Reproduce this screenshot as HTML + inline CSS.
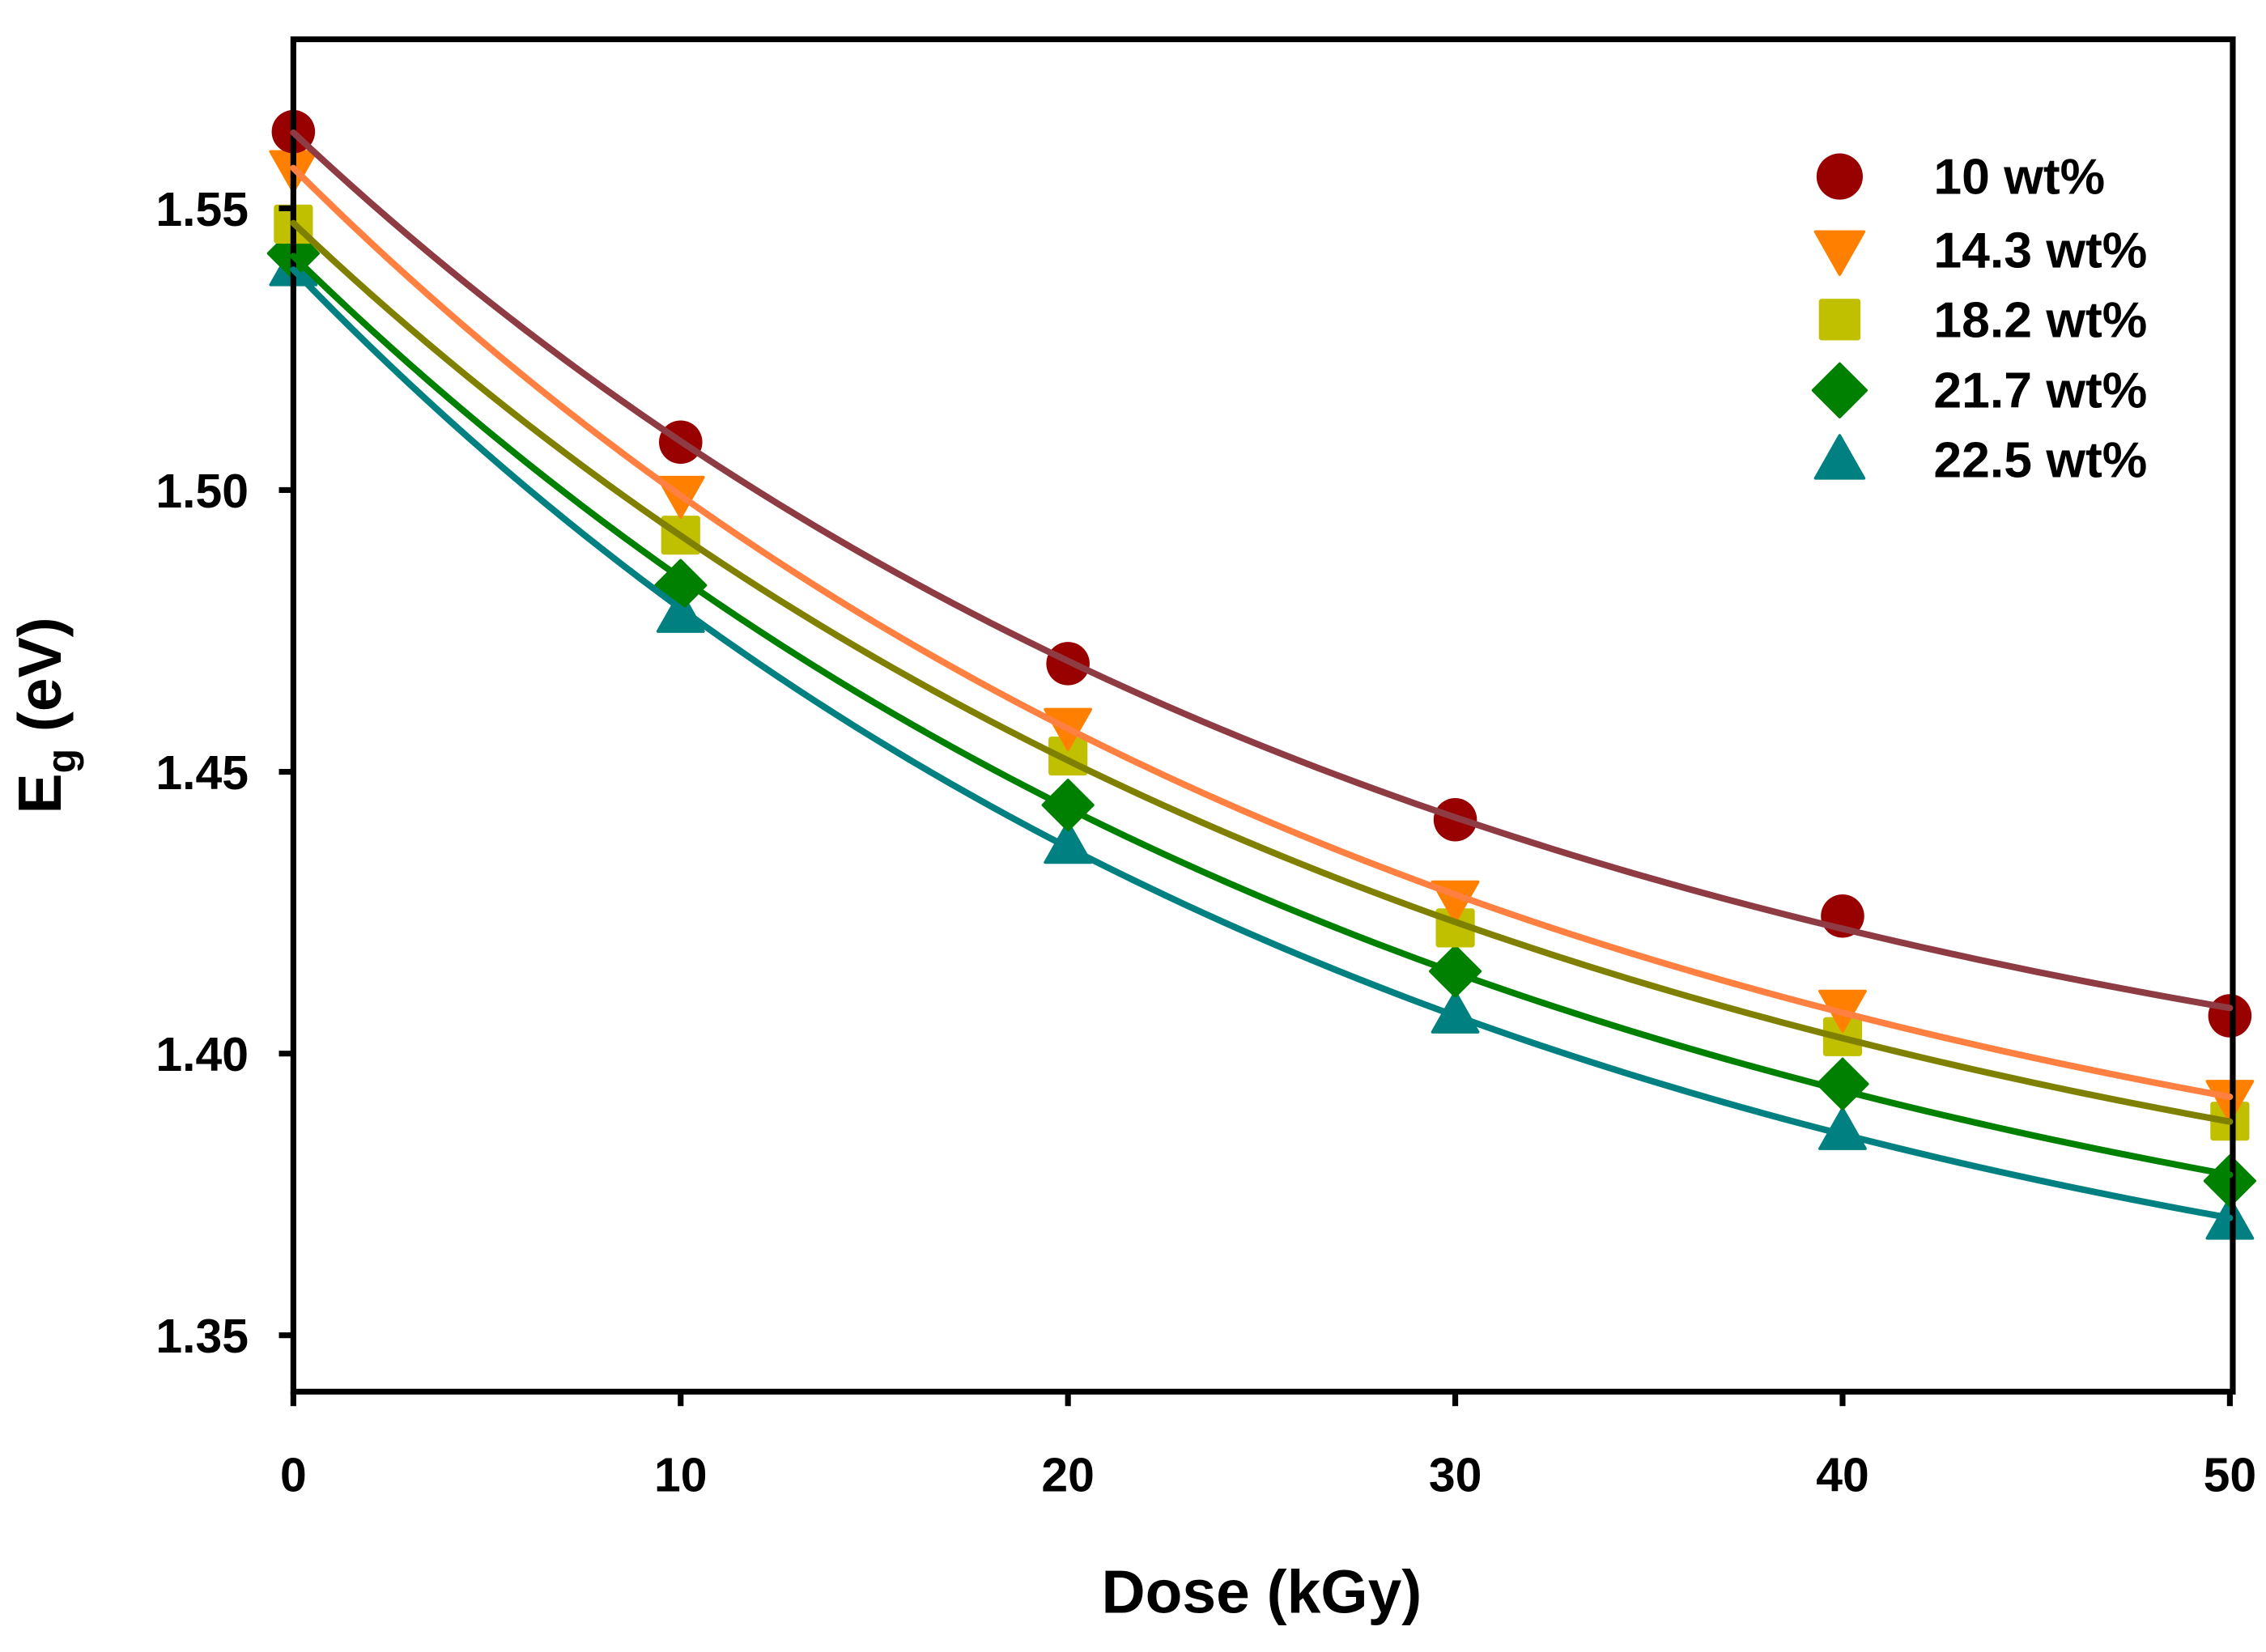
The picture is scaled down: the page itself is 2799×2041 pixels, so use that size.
<!DOCTYPE html>
<html><head><meta charset="utf-8"><style>
html,body{margin:0;padding:0;background:#fff;}
svg{display:block;font-family:"Liberation Sans",Arial,sans-serif;font-weight:bold;}
</style></head><body>
<svg id="chart" width="2799" height="2041" viewBox="0 0 1568 1143" xmlns="http://www.w3.org/2000/svg">
<g id="plot"></g>
</svg>
<script>
const doses = [0, 10, 20, 30, 40, 50];
const seriesNames = ["10 wt%", "14.3 wt%", "18.2 wt%", "21.7 wt%", "22.5 wt%"];
const s10 = [1.5636, 1.5085, 1.4692, 1.4415, 1.4244, 1.4067];
const s143 = [1.557, 1.4992, 1.458, 1.4274, 1.408, 1.392];
const s182 = [1.5472, 1.492, 1.4528, 1.4223, 1.403, 1.388];
const s217 = [1.542, 1.4831, 1.4441, 1.4146, 1.3946, 1.3774];
const s225 = [1.5395, 1.478, 1.437, 1.4069, 1.3862, 1.3703];
const xTicks = [0, 10, 20, 30, 40, 50];
const yTicks = [1.35, 1.40, 1.45, 1.50, 1.55];

const NS = "http://www.w3.org/2000/svg";
const L = 203, R = 1545, T = 27, B = 963;
function xs(v){ return 203 + v * 26.8; }
function ys(v){ return 144 + (1.55 - v) * 3900; }
const g = document.getElementById('plot');
function mk(tag, attrs){ const e = document.createElementNS(NS, tag); for (const k in attrs) e.setAttribute(k, attrs[k]); g.appendChild(e); return e; }

const all = [s10, s143, s182, s217, s225];
const lineCols = ["#8e3b43", "#ff8040", "#808000", "#008000", "#008080"];
const markCols = ["#990000", "#ff8000", "#c0c000", "#008000", "#008080"];
const shapes = ["circle", "tdown", "square", "diamond", "tup"];
const slugs = ["10wt", "14-3wt", "18-2wt", "21-7wt", "22-5wt"];

function fit(ys_){
  let best = null;
  for (let b = 0.002; b <= 0.3; b += 0.0005) {
    const e = doses.map(x => Math.exp(-b * x));
    const n = e.length; let se=0, sy=0, see=0, sey=0;
    for (let i=0;i<n;i++){ se+=e[i]; sy+=ys_[i]; see+=e[i]*e[i]; sey+=e[i]*ys_[i]; }
    const a = (n*sey - se*sy) / (n*see - se*se); const y0 = (sy - a*se)/n;
    let err = 0; for (let i=0;i<n;i++){ const d = y0 + a*e[i] - ys_[i]; err += d*d; }
    if (!best || err < best.err) best = {a, b, y0, err};
  }
  return best;
}

function marker(shape, cx, cy, col, s){
  let el;
  if (shape === "circle") el = mk('circle', {cx, cy, r: s, fill: col});
  else if (shape === "square") el = mk('rect', {x: cx - s*0.9, y: cy - s*0.9, width: s*1.8, height: s*1.8, rx: 2, fill: col});
  else if (shape === "diamond") el = mk('polygon', {points: `${cx},${cy-s*1.15} ${cx+s*1.15},${cy} ${cx},${cy+s*1.15} ${cx-s*1.15},${cy}`, fill: col, 'stroke-linejoin': 'round', stroke: col, 'stroke-width': 2});
  else if (shape === "tdown") el = mk('polygon', {points: `${cx-s*1.05},${cy-s*0.8} ${cx+s*1.05},${cy-s*0.8} ${cx},${cy+s*1.05}`, fill: col, stroke: col, 'stroke-width': 2, 'stroke-linejoin': 'round'});
  else el = mk('polygon', {points: `${cx-s*1.05},${cy+s*0.8} ${cx+s*1.05},${cy+s*0.8} ${cx},${cy-s*1.05}`, fill: col, stroke: col, 'stroke-width': 2, 'stroke-linejoin': 'round'});
  return el;
}

const frame = mk('rect', {x: L, y: T, width: R - L, height: B - T, fill: 'none', stroke: '#000', 'stroke-width': 4});



xTicks.forEach(v => {
  const t = mk('line', {x1: xs(v), x2: xs(v), y1: B, y2: B + 10, stroke: '#000', 'stroke-width': 4});
  
  
  const lb = mk('text', {x: xs(v), y: 1032, 'text-anchor': 'middle', 'font-size': 33});
  lb.textContent = String(v);
  
  
});
yTicks.forEach(v => {
  const t = mk('line', {x1: L - 10, x2: L, y1: ys(v), y2: ys(v), stroke: '#000', 'stroke-width': 4});
  
  
  const lb = mk('text', {x: 172, y: ys(v) + 12, 'text-anchor': 'end', 'font-size': 33});
  lb.textContent = v.toFixed(2);
  
  
});

all.forEach((d, i) => {
  const f = fit(d);
  let p = "";
  for (let x = 0; x <= 50.001; x += 0.5) { p += (x === 0 ? "M" : "L") + xs(x).toFixed(2) + "," + ys(f.y0 + f.a*Math.exp(-f.b*x)).toFixed(2); }
  const c = mk('path', {d: p, fill: 'none', stroke: lineCols[i], 'stroke-width': 4.5, 'stroke-linecap': 'round'});
  
  
});
all.forEach((d, i) => {
  d.forEach((v, j) => {
    const m = marker(shapes[i], xs(doses[j]), ys(v), markCols[i], 15);
    
    
    g.insertBefore(m, g.firstChild);
  });
});

const legY = [122, 173, 221, 270, 318];
seriesNames.forEach((n, i) => {
  const m = marker(shapes[i], 1273, legY[i], markCols[i], 16);
  
  
  const t = mk('text', {x: 1338, y: legY[i] + 12, 'font-size': 35});
  t.textContent = n;
  
  
});

const xt = mk('text', {x: 873, y: 1116, 'text-anchor': 'middle', 'font-size': 42});
xt.textContent = "Dose (kGy)";


const yt = mk('text', {transform: 'translate(42,495) rotate(-90)', 'text-anchor': 'middle', 'font-size': 42});
yt.innerHTML = 'E<tspan font-size="28" dy="10">g</tspan><tspan dy="-10"> (eV)</tspan>';


</script>
</body></html>
